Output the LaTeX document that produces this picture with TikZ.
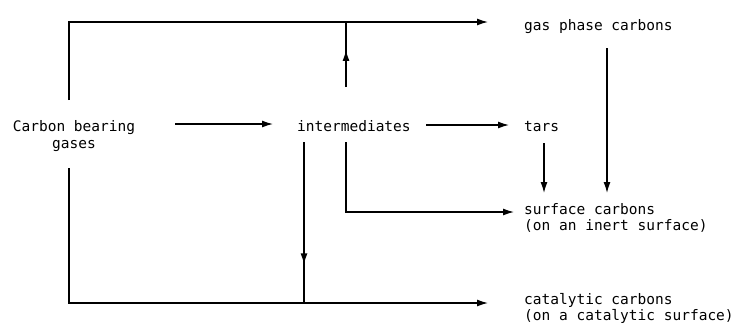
\documentclass[tikz,border=0pt]{standalone}
\usepackage{fontspec}
\newfontfamily\monofam{DejaVu Sans Mono}
\usetikzlibrary{arrows.meta,decorations.markings}
\tikzset{
  lbl/.style={inner sep=0pt, anchor=base west, font=\monofam\fontsize{14.5}{15.5}\selectfont, align=left},
  tip/.tip={Latex[length=11pt,width=7pt]},
  ln/.style={line width=1.3pt},
  arr/.style={ln, -tip},
  midarr/.style={ln, postaction={decorate}, decoration={markings, mark=at position #1 with {\arrow{tip}}}}
}
\begin{document}
\begin{tikzpicture}[x=1pt,y=-1pt]
\useasboundingbox[fill=white] (0,0) rectangle (736,325);
% nodes (anchor = baseline of last line)
\node[lbl, anchor=base, align=center, font=\monofam\fontsize{14.5}{17}\selectfont] (g) at (74,148) {Carbon bearing\\gases};
\node[lbl] (i) at (297,131) {intermediates};
\node[lbl] (gp) at (524,30) {gas phase carbons};
\node[lbl] (t) at (524,131) {tars};
\node[lbl] (s) at (524,230) {surface carbons\\(on an inert surface)};
\node[lbl] (c) at (524,320) {catalytic carbons\\(on a catalytic surface)};
% free ends
\coordinate (gUp) at (69,100);
\coordinate (gDn) at (69,168);
\coordinate (gpIn) at (488,22);
\coordinate (cIn) at (488,303);
\coordinate (sIn) at (514,212);
\coordinate (iUp) at (346,87);
\coordinate (iDnA) at (346,142);
\coordinate (iDnB) at (304,142);
% connectors
\draw[arr] (gUp) |- (gpIn);
\draw[midarr=0.57] (iUp) -- (iUp |- gpIn);
\draw[arr] (175,124) -- (273,124);
\draw[arr] (426,125) -- (509,125);
\draw[arr] (544,143) -- (544,193);
\draw[arr] (607,48) -- (607,193);
\draw[arr] (iDnA) |- (sIn);
\draw[arr] (gDn) |- (cIn);
\draw[midarr=0.76] (iDnB) -- (iDnB |- cIn);
\end{tikzpicture}
\end{document}
